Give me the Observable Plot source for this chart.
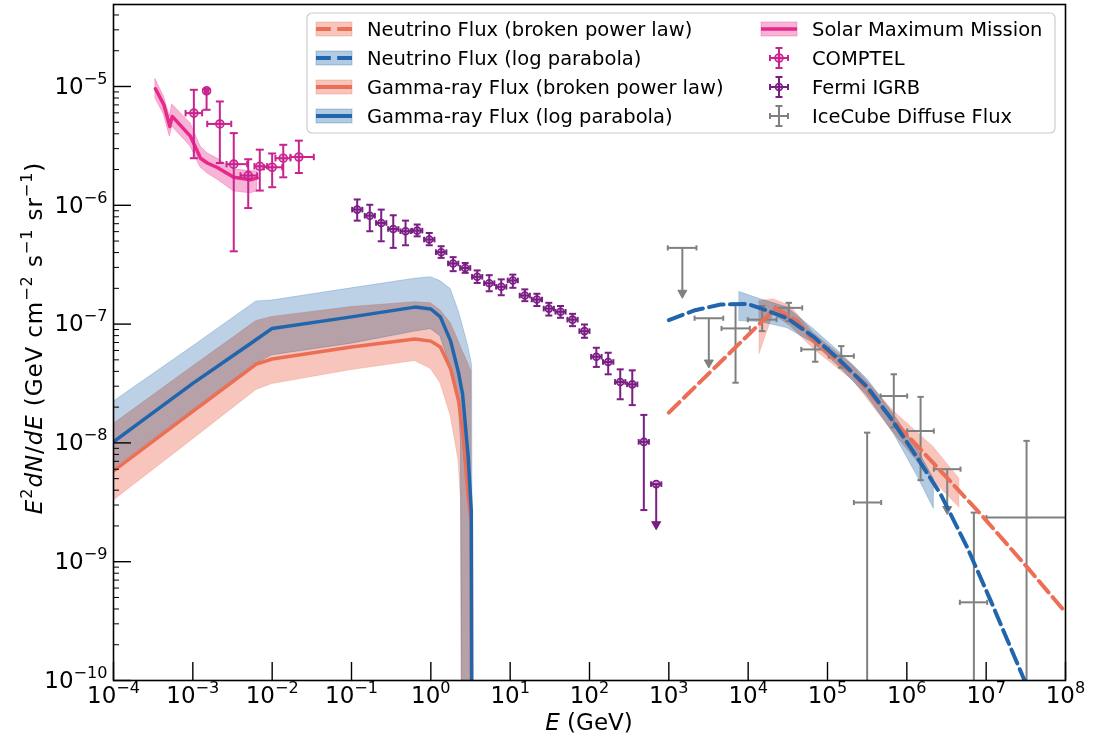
<!DOCTYPE html>
<html><head><meta charset="utf-8">
<script src="https://cdn.jsdelivr.net/npm/d3@7"></script>
<script src="https://cdn.jsdelivr.net/npm/@observablehq/plot@0.6"></script>
<style>
html,body{margin:0;padding:0;background:#fff;}
#chart svg{display:block;}
</style></head><body><div id="chart"></div>
<script>
// ---------------- DATA ----------------
// Gamma-ray model curves (shared energy nodes, GeV)
const gammaE      = [1e-4, 1e-3, 6.31e-3, 1e-2, 1e-1, 0.631, 1, 1.318, 1.778, 2.239, 2.399, 2.512, 2.951, 3.236, 3.311, 3.467];
const gammaLPMid  = [1.02e-8, 3.17e-8, 7.41e-8, 9.20e-8, 1.15e-7, 1.39e-7, 1.34e-7, 1.15e-7, 7.19e-8, 3.87e-8, 3.01e-8, 2.58e-8, 7.78e-9, 2.69e-9, 1e-12, 1e-12];
const gammaLPHi   = [2.22e-8, 6.47e-8, 1.55e-7, 1.58e-7, 2.00e-7, 2.41e-7, 2.48e-7, 2.30e-7, 1.97e-7, 1.29e-7, 1.10e-7, 9.82e-8, 6.53e-8, 4.89e-8, 4.44e-8, 1e-12];
const gammaLPLo   = [6.05e-9, 1.88e-8, 4.66e-8, 5.46e-8, 6.84e-8, 8.65e-8, 9.08e-8, 7.92e-8, 4.36e-8, 2.25e-8, 1.04e-8, 1e-12, 1e-12, 1e-12, 1e-12, 1e-12];
const gammaBPLMid = [5.82e-9, 1.84e-8, 4.61e-8, 5.08e-8, 6.41e-8, 7.48e-8, 7.19e-8, 6.41e-8, 4.19e-8, 2.25e-8, 1.59e-8, 1.31e-8, 3.59e-9, 2.13e-9, 1e-12, 1e-12];
const gammaBPLHi  = [1.44e-8, 4.40e-8, 1.06e-7, 1.15e-7, 1.39e-7, 1.53e-7, 1.50e-7, 1.31e-7, 1.02e-7, 7.19e-8, 6.41e-8, 5.93e-8, 4.70e-8, 4.03e-8, 1e-12, 1e-12];
const gammaBPLLo  = [3.26e-9, 1.07e-8, 2.79e-8, 3.13e-8, 4.10e-8, 4.89e-8, 4.19e-8, 3.19e-8, 1.69e-8, 7.06e-9, 3.26e-9, 1e-12, 1e-12, 1e-12, 1e-12, 1e-12];

// Neutrino model curves
const nuBPLE   = [1.0e3, 2.21e4, 4.15e4, 6.73e4, 2.15e5, 6.85e5, 2.66e6, 8.49e6, 3.30e7, 1.0e8];
const nuBPLF   = [1.80e-8, 1.36e-7, 1.06e-7, 7.19e-8, 3.78e-8, 1.53e-8, 5.82e-9, 2.52e-9, 8.95e-10, 3.75e-10];
const nuBPLBandE  = [1.39e4, 2.08e4, 3.41e4, 6.67e4, 2.13e5, 6.79e5, 2.17e6, 4.61e6];
const nuBPLBandHi = [1.56e-7, 1.62e-7, 1.42e-7, 8.40e-8, 4.44e-8, 1.86e-8, 9.25e-9, 4.98e-9];
const nuBPLBandLo = [5.60e-8, 1.21e-7, 9.61e-8, 6.17e-8, 3.32e-8, 1.21e-8, 4.80e-9, 2.84e-9];

const nuLPE    = [1.0e3, 2.07e3, 4.49e3, 9.73e3, 1.74e4, 3.11e4, 6.73e4, 1.46e5, 3.17e5, 6.22e5, 1.35e6, 2.66e6, 5.77e6, 1.14e7, 2.99e7, 3.98e7];
const nuLPF    = [1.08e-7, 1.30e-7, 1.46e-7, 1.48e-7, 1.30e-7, 1.12e-7, 7.78e-8, 4.89e-8, 2.96e-8, 1.63e-8, 7.52e-9, 3.71e-9, 1.32e-9, 4.70e-10, 1.03e-10, 6.2e-11];
const nuLPBandE  = [7.78e3, 1.43e4, 3.11e4, 6.67e4, 1.46e5, 3.17e5, 6.79e5, 1.35e6, 2.19e6];
const nuLPBandHi = [1.86e-7, 1.62e-7, 1.38e-7, 9.08e-8, 5.70e-8, 3.45e-8, 1.75e-8, 8.91e-9, 4.98e-9];
const nuLPBandLo = [1.06e-7, 1.04e-7, 9.25e-8, 6.92e-8, 4.27e-8, 2.48e-8, 1.21e-8, 5.28e-9, 2.79e-9];

// Solar Maximum Mission
const smmE  = [3.38e-4, 4.31e-4, 5.13e-4, 5.50e-4, 9.35e-4, 1.25e-3, 1.52e-3, 2.03e-3, 3.28e-3, 5.33e-3, 6.47e-3];
const smmF  = [9.57e-6, 7.02e-6, 4.61e-6, 5.60e-6, 3.80e-6, 2.49e-6, 2.27e-6, 2.08e-6, 1.72e-6, 1.64e-6, 1.70e-6];
const smmHi = [1.15e-5, 8.24e-6, 5.60e-6, 7.06e-6, 4.89e-6, 3.13e-6, 2.74e-6, 2.48e-6, 2.01e-6, 1.93e-6, 1.93e-6];
const smmLo = [7.92e-6, 5.82e-6, 3.80e-6, 4.61e-6, 3.13e-6, 2.08e-6, 1.86e-6, 1.65e-6, 1.31e-6, 1.26e-6, 1.31e-6];

// COMPTEL
const comptelE   = [1.03e-3, 1.49e-3, 2.19e-3, 3.28e-3, 4.99e-3, 6.98e-3, 1.0e-2, 1.38e-2, 2.17e-2];
const comptelElo = [8.1e-4, 1.42e-3, 1.52e-3, 2.66e-3, 3.99e-3, 5.98e-3, 7.85e-3, 1.10e-2, 1.70e-2];
const comptelEhi = [1.31e-3, 1.56e-3, 3.05e-3, 4.84e-3, 6.47e-3, 8.65e-3, 1.34e-2, 1.70e-2, 3.35e-2];
const comptelF   = [5.97e-6, 9.18e-6, 4.84e-6, 2.22e-6, 1.78e-6, 2.13e-6, 2.09e-6, 2.49e-6, 2.55e-6];
const comptelFhi = [9.38e-6, 9.50e-6, 7.48e-6, 4.05e-6, 2.44e-6, 2.94e-6, 2.73e-6, 3.23e-6, 3.50e-6];
const comptelFlo = [2.49e-6, 6.37e-6, 2.27e-6, 4.10e-7, 9.48e-7, 1.33e-6, 1.42e-6, 1.72e-6, 1.87e-6];

// Fermi IGRB
const fermiE   = [0.118, 0.170, 0.237, 0.336, 0.480, 0.673, 0.955, 1.35, 1.91, 2.71, 3.84, 5.45, 7.72, 10.8, 15.3, 21.7, 30.7, 43.1, 61.1, 86.5, 122, 172, 244, 346, 484, 693];
const fermiElo = [0.102, 0.147, 0.204, 0.290, 0.414, 0.580, 0.823, 1.16, 1.65, 2.34, 3.31, 4.70, 6.66, 9.31, 13.2, 18.7, 26.5, 37.2, 52.7, 74.6, 105, 148, 210, 298, 417, 597];
const fermiEhi = [0.137, 0.197, 0.275, 0.390, 0.557, 0.781, 1.11, 1.57, 2.22, 3.14, 4.45, 6.32, 8.96, 12.5, 17.7, 25.2, 35.6, 50.0, 70.9, 100, 142, 200, 283, 401, 561, 804];
const fermiF   = [9.20e-7, 8.17e-7, 7.10e-7, 6.32e-7, 6.05e-7, 6.12e-7, 5.15e-7, 4.03e-7, 3.24e-7, 2.97e-7, 2.50e-7, 2.21e-7, 2.06e-7, 2.33e-7, 1.74e-7, 1.61e-7, 1.35e-7, 1.27e-7, 1.09e-7, 8.73e-8, 5.31e-8, 4.80e-8, 3.26e-8, 3.11e-8, 1.02e-8, 4.50e-9];
const fermiFhi = [1.12e-6, 1.01e-6, 9.20e-7, 8.24e-7, 7.43e-7, 6.89e-7, 5.85e-7, 4.52e-7, 3.66e-7, 3.27e-7, 2.83e-7, 2.58e-7, 2.38e-7, 2.61e-7, 1.96e-7, 1.80e-7, 1.51e-7, 1.42e-7, 1.22e-7, 9.93e-8, 6.32e-8, 5.74e-8, 4.16e-8, 4.08e-8, 1.72e-8, 4.50e-9];
const fermiFlo = [7.43e-7, 6.05e-7, 4.98e-7, 4.38e-7, 4.61e-7, 5.48e-7, 4.61e-7, 3.61e-7, 2.79e-7, 2.70e-7, 2.22e-7, 1.89e-7, 1.75e-7, 2.02e-7, 1.56e-7, 1.42e-7, 1.18e-7, 1.13e-7, 9.61e-8, 7.67e-8, 4.36e-8, 3.78e-8, 2.33e-8, 2.08e-8, 2.72e-9, 2.13e-9];
const fermiUp  = [0,0,0,0,0,0,0,0,0,0,0,0,0,0,0,0,0,0,0,0,0,0,0,0,0,1];

// IceCube diffuse flux
const icE   = [1.48e3, 3.19e3, 6.93e3, 1.50e4, 3.25e4, 7.0e4, 1.49e5, 3.16e5, 6.85e5, 1.49e6, 3.23e6, 7.0e6, 3.23e7];
const icElo = [970, 2.11e3, 4.61e3, 9.9e3, 2.21e4, 4.67e4, 1.04e5, 2.15e5, 4.67e5, 1.01e6, 2.19e6, 4.66e6, 1.01e7];
const icEhi = [2.23e3, 4.85e3, 1.05e4, 2.28e4, 4.80e4, 1.04e5, 2.15e5, 4.75e5, 1.01e6, 2.19e6, 4.75e6, 1.03e7, 1.03e8];
const icF   = [4.38e-7, 1.12e-7, 9.20e-8, 1.09e-7, 1.37e-7, 6.12e-8, 5.38e-8, 3.15e-9, 2.48e-8, 1.26e-8, 6.01e-9, 4.55e-10, 2.35e-9];
const icFhi = [4.38e-7, 1.12e-7, 1.48e-7, 1.42e-7, 1.51e-7, 7.43e-8, 6.53e-8, 1.22e-8, 3.78e-8, 2.44e-8, 6.01e-9, 2.59e-9, 1.04e-8];
const icFlo = [1.89e-7, 4.89e-8, 3.21e-8, 8.73e-8, 1.06e-7, 4.82e-8, 4.30e-8, 1e-12, 1.35e-8, 4.86e-9, 2.86e-9, 1e-12, 1e-12];
const icUp  = [1,1,0,0,0,0,0,0,0,0,1,0,0];

// Axis ticks
const xTicks = [1e-4, 1e-3, 1e-2, 1e-1, 1, 10, 100, 1e3, 1e4, 1e5, 1e6, 1e7, 1e8];
const yTicks = [1e-10, 1e-9, 1e-8, 1e-7, 1e-6, 1e-5];
const yMinor = [];
for (const t of yTicks) for (let k = 2; k <= 9; k++) if (t * k < 4.9e-5) yMinor.push(t * k);

// ---------------- STYLE ----------------
const RED = "#ec6e55", BLUE = "#2166ac", PINK = "#e7298a", MAG = "#c8238f", PURP = "#7a1e84", GREY = "#808080";

// ---------------- TABLES ----------------
const gamma = gammaE.map((E, i) => ({E, lpMid: gammaLPMid[i], lpHi: gammaLPHi[i], lpLo: gammaLPLo[i], bplMid: gammaBPLMid[i], bplHi: gammaBPLHi[i], bplLo: gammaBPLLo[i]}));
const nuBPL = nuBPLE.map((E, i) => ({E, F: nuBPLF[i]}));
const nuBPLBand = nuBPLBandE.map((E, i) => ({E, hi: nuBPLBandHi[i], lo: nuBPLBandLo[i]}));
const nuLP = nuLPE.map((E, i) => ({E, F: nuLPF[i]}));
const nuLPBand = nuLPBandE.map((E, i) => ({E, hi: nuLPBandHi[i], lo: nuLPBandLo[i]}));
const smm = smmE.map((E, i) => ({E, F: smmF[i], hi: smmHi[i], lo: smmLo[i]}));
const comptel = comptelE.map((E, i) => ({E, Elo: comptelElo[i], Ehi: comptelEhi[i], F: comptelF[i], Fhi: comptelFhi[i], Flo: comptelFlo[i], up: 0}));
const fermi = fermiE.map((E, i) => ({E, Elo: fermiElo[i], Ehi: fermiEhi[i], F: fermiF[i], Fhi: fermiFhi[i], Flo: fermiFlo[i], up: fermiUp[i]}));
const icecube = icE.map((E, i) => ({E, Elo: icElo[i], Ehi: icEhi[i], F: icF[i], Fhi: icFhi[i], Flo: icFlo[i], up: icUp[i]}));

const hcap = w => ({draw(ctx) { ctx.moveTo(-w, 0); ctx.lineTo(w, 0); }});
const vcap = h => ({draw(ctx) { ctx.moveTo(0, -h); ctx.lineTo(0, h); }});
const arrowDown = {draw(ctx) { ctx.moveTo(-4.5, -1); ctx.lineTo(4.5, -1); ctx.lineTo(0, 7); ctx.closePath(); }};

function errorMarks(data, color, {cap = 4, dotR = 0}) {
  const base = {stroke: color, strokeWidth: 2, clip: true};
  const marks = [
    Plot.ruleY(data, {y: "F", x1: "Elo", x2: "Ehi", ...base}),
    Plot.ruleX(data, {x: "E", y1: "Flo", y2: "Fhi", ...base}),
    Plot.dot(data, {x: "Elo", y: "F", symbol: vcap(cap * 0.8), fill: "none", ...base}),
    Plot.dot(data, {x: "Ehi", y: "F", symbol: vcap(cap * 0.8), fill: "none", ...base}),
    Plot.dot(data.filter(d => d.Fhi > d.F), {x: "E", y: "Fhi", symbol: hcap(cap), fill: "none", ...base}),
    Plot.dot(data.filter(d => !d.up), {x: "E", y: "Flo", symbol: hcap(cap), fill: "none", ...base}),
    Plot.dot(data.filter(d => d.up), {x: "E", y: "Flo", symbol: arrowDown, fill: color, stroke: color, strokeWidth: 1, clip: true})
  ];
  if (dotR) marks.push(Plot.dot(data, {x: "E", y: "F", r: dotR, fill: color, fillOpacity: 0.35, stroke: color, strokeWidth: 1.6, clip: true}));
  return marks;
}

const fmt = d => { const e = Math.round(Math.log10(d)); return "10^" + (e < 0 ? "\u2212" + (-e) : String(e)); };

const chart = Plot.plot({
  width: 1093, height: 739,
  marginLeft: 113, marginRight: 28, marginTop: 4, marginBottom: 59,
  x: {type: "log", domain: [1e-4, 1e8], label: null},
  y: {type: "log", domain: [1e-10, 4.9e-5], label: null},
  style: {fontFamily: "DejaVu Sans", background: "white", color: "black"},
  marks: [
    // gamma-ray bands & lines
    Plot.areaY(gamma, {x: "E", y1: "lpLo", y2: "lpHi", fill: BLUE, fillOpacity: 0.3, stroke: BLUE, strokeOpacity: 0.25, strokeWidth: 1, clip: true}),
    Plot.areaY(gamma, {x: "E", y1: "bplLo", y2: "bplHi", fill: RED, fillOpacity: 0.4, stroke: RED, strokeOpacity: 0.25, strokeWidth: 1, clip: true}),
    Plot.line(gamma, {x: "E", y: "bplMid", stroke: RED, strokeWidth: 3.5, clip: true}),
    Plot.line(gamma, {x: "E", y: "lpMid", stroke: BLUE, strokeWidth: 3.5, clip: true}),
    // neutrino bands & lines
    Plot.areaY(nuLPBand, {x: "E", y1: "lo", y2: "hi", fill: BLUE, fillOpacity: 0.35, stroke: BLUE, strokeOpacity: 0.25, strokeWidth: 1, clip: true}),
    Plot.areaY(nuBPLBand, {x: "E", y1: "lo", y2: "hi", fill: RED, fillOpacity: 0.4, stroke: RED, strokeOpacity: 0.2, strokeWidth: 1, clip: true}),
    // SMM
    Plot.areaY(smm, {x: "E", y1: "lo", y2: "hi", fill: PINK, fillOpacity: 0.35, stroke: PINK, strokeOpacity: 0.3, strokeWidth: 1, clip: true}),
    Plot.line(smm, {x: "E", y: "F", stroke: PINK, strokeWidth: 3.5, clip: true}),
    // data points
    ...errorMarks(comptel, MAG, {cap: 4, dotR: 4}),
    ...errorMarks(fermi, PURP, {cap: 3.5, dotR: 3.5}),
    ...errorMarks(icecube, GREY, {cap: 3.2}),
    Plot.line(nuBPL, {x: "E", y: "F", stroke: RED, strokeWidth: 4, strokeDasharray: "14.8,6.4", clip: true}),
    Plot.line(nuLP, {x: "E", y: "F", stroke: BLUE, strokeWidth: 4, strokeDasharray: "14.8,6.4", clip: true}),
    // axes
    Plot.axisX(xTicks, {anchor: "bottom", tickSize: 0, tickPadding: 6, fontSize: 23, tickFormat: fmt, label: null}),
    Plot.axisX(xTicks, {anchor: "bottom", tickSize: 18, dy: -18, tickFormat: () => "", label: null, strokeWidth: 1.4}),
    Plot.axisY(yTicks, {anchor: "left", tickSize: 0, tickPadding: 6, fontSize: 23, tickFormat: fmt, label: null}),
    Plot.axisY(yTicks, {anchor: "left", tickSize: 18, dx: 18, tickFormat: () => "", label: null, strokeWidth: 1.4}),
    Plot.axisY(yMinor, {anchor: "left", tickSize: 6, dx: 6, tickFormat: () => "", label: null, strokeWidth: 1}),
    Plot.frame({stroke: "black", strokeWidth: 1.6})
  ]
});
document.getElementById("chart").append(chart);

const svg = d3.select(chart);
svg.selectAll('g[aria-label="area"]').style("mix-blend-mode", "multiply");

// superscript tick labels
svg.selectAll('g[aria-label="x-axis tick label"] text, g[aria-label="y-axis tick label"] text').each(function () {
  const t = this.textContent;
  if (!t.includes("^")) return;
  const [b, e] = t.split("^");
  const node = d3.select(this);
  node.text(null);
  node.append("tspan").text(b);
  node.append("tspan").attr("dy", "-0.62em").attr("font-size", "0.7em").text(e);
});

// axis titles
const addT = (sel, txt, o = {}) => { const s = sel.append("tspan").text(txt); for (const k in o) s.attr(k, o[k]); return s; };
const ylab = svg.append("text").attr("transform", "translate(42,338) rotate(-90)")
  .attr("text-anchor", "middle").attr("font-family", "DejaVu Sans").attr("font-size", 23)
  .attr("letter-spacing", "0.9px").attr("fill", "black");
addT(ylab, "E", {"font-style": "italic"});
addT(ylab, "2", {"font-size": "0.7em", dy: "-0.62em"});
addT(ylab, "dN", {"font-style": "italic", dy: "0.434em"});
addT(ylab, "/", {});
addT(ylab, "dE", {"font-style": "italic"});
addT(ylab, " (GeV cm", {});
addT(ylab, "\u22122", {"font-size": "0.7em", dy: "-0.62em"});
addT(ylab, " s", {dy: "0.434em"});
addT(ylab, "\u22121", {"font-size": "0.7em", dy: "-0.62em"});
addT(ylab, " sr", {dy: "0.434em"});
addT(ylab, "\u22121", {"font-size": "0.7em", dy: "-0.62em"});
addT(ylab, ")", {dy: "0.434em"});

const xlab = svg.append("text").attr("x", 589).attr("y", 730).attr("text-anchor", "middle")
  .attr("font-family", "DejaVu Sans").attr("font-size", 23).attr("fill", "black");
addT(xlab, "E", {"font-style": "italic"});
addT(xlab, " (GeV)", {});

// legend
const leg = svg.append("g").attr("font-family", "DejaVu Sans").attr("font-size", 19.5).attr("text-anchor", "start");
leg.append("rect").attr("x", 307).attr("y", 13).attr("width", 748).attr("height", 120).attr("rx", 5)
  .attr("fill", "white").attr("fill-opacity", 0.8).attr("stroke", "#cccccc").attr("stroke-width", 1.2);
const rows = [29, 58, 87, 116];
const col1 = [
  {label: "Neutrino Flux (broken power law)", c: RED, dash: true, op: 0.4},
  {label: "Neutrino Flux (log parabola)", c: BLUE, dash: true, op: 0.35},
  {label: "Gamma-ray Flux (broken power law)", c: RED, dash: false, op: 0.4},
  {label: "Gamma-ray Flux (log parabola)", c: BLUE, dash: false, op: 0.35}
];
col1.forEach((it, i) => {
  const y = rows[i];
  leg.append("rect").attr("x", 316).attr("y", y - 7).attr("width", 36).attr("height", 14)
    .attr("fill", it.c).attr("fill-opacity", it.op).attr("stroke", it.c).attr("stroke-opacity", 0.3);
  leg.append("line").attr("x1", 316).attr("x2", 352).attr("y1", y).attr("y2", y).attr("stroke", it.c)
    .attr("stroke-width", 4).attr("stroke-dasharray", it.dash ? "14.8,6.4" : null);
  leg.append("text").attr("x", 367).attr("y", y).attr("dy", "0.35em").attr("text-anchor", "start").text(it.label);
});
// SMM
leg.append("rect").attr("x", 761).attr("y", rows[0] - 7).attr("width", 36).attr("height", 14)
  .attr("fill", PINK).attr("fill-opacity", 0.35).attr("stroke", PINK).attr("stroke-opacity", 0.3);
leg.append("line").attr("x1", 761).attr("x2", 797).attr("y1", rows[0]).attr("y2", rows[0]).attr("stroke", PINK).attr("stroke-width", 3.5);
leg.append("text").attr("x", 812).attr("y", rows[0]).attr("dy", "0.35em").attr("text-anchor", "start").text("Solar Maximum Mission");
const eb = [
  {label: "COMPTEL", c: MAG, r: 4},
  {label: "Fermi IGRB", c: PURP, r: 3.5},
  {label: "IceCube Diffuse Flux", c: GREY, r: 0}
];
eb.forEach((it, i) => {
  const y = rows[i + 1], cx = 779;
  const g = leg.append("g").attr("stroke", it.c).attr("stroke-width", 2);
  g.append("line").attr("x1", cx).attr("x2", cx).attr("y1", y - 10).attr("y2", y + 10);
  g.append("line").attr("x1", cx - 9).attr("x2", cx + 9).attr("y1", y).attr("y2", y);
  g.append("line").attr("x1", cx - 3.5).attr("x2", cx + 3.5).attr("y1", y - 10).attr("y2", y - 10);
  g.append("line").attr("x1", cx - 3.5).attr("x2", cx + 3.5).attr("y1", y + 10).attr("y2", y + 10);
  g.append("line").attr("x1", cx - 9).attr("x2", cx - 9).attr("y1", y - 3).attr("y2", y + 3);
  g.append("line").attr("x1", cx + 9).attr("x2", cx + 9).attr("y1", y - 3).attr("y2", y + 3);
  if (it.r) g.append("circle").attr("cx", cx).attr("cy", y).attr("r", it.r).attr("fill", it.c).attr("fill-opacity", 0.35).attr("stroke-width", 1.6);
  leg.append("text").attr("x", 812).attr("y", y).attr("dy", "0.35em").attr("text-anchor", "start").text(it.label);
});
</script></body></html>
